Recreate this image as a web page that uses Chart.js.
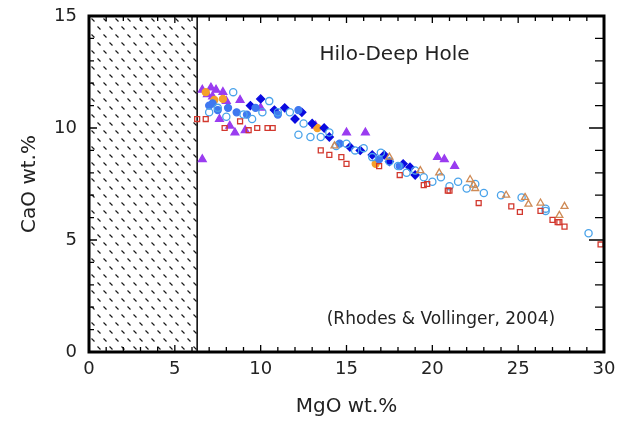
<!DOCTYPE html>
<html>
<head>
<meta charset="utf-8">
<script src="https://cdn.jsdelivr.net/npm/chart.js@4"></script>
<style>
  html, body { margin: 0; padding: 0; background: #fff; }
  #wrap { width: 635px; height: 423px; }
</style>
</head>
<body>
<div id="wrap"><canvas id="grafica" width="635" height="423"></canvas></div>
<script>
// ticks
const xTicks = [0, 5, 10, 15, 20, 25, 30];
const yTicks = [0, 5, 10, 15];
const hatchLimit = 6.3;

// series (MgO, CaO)
const purpleTri = [
    [6.6, 11.7], [6.9, 11.5], [7.1, 11.8], [7.4, 11.7], [7.8, 11.6], [7.2, 11.4], [8.0, 11.2],
    [7.6, 10.4], [8.2, 10.1], [8.5, 9.8], [9.1, 9.9], [8.8, 11.25], [10.0, 10.9], [6.6, 8.6],
    [13.2, 10.1], [15.0, 9.8], [16.1, 9.8], [20.3, 8.7], [20.7, 8.6], [21.3, 8.3]
];
const darkBlue = [
    [9.4, 11.0], [10.0, 11.3], [10.8, 10.8], [11.4, 10.9], [12.4, 10.7], [12.0, 10.4],
    [13.0, 10.2], [13.7, 10.0], [14.0, 9.6], [15.2, 9.15], [15.8, 9.0], [16.5, 8.8],
    [17.2, 8.8], [17.5, 8.5], [18.3, 8.4], [18.7, 8.25], [19.0, 7.9]
];
const medBlue = [
    [7.0, 11.0], [7.2, 11.1], [7.5, 10.8], [8.1, 10.9], [8.6, 10.7], [9.2, 10.6],
    [9.7, 10.9], [11.0, 10.6], [12.2, 10.8], [14.6, 9.3], [16.9, 8.6], [18.1, 8.3]
];
const lightBlueOpen = [
    [7.0, 10.7], [7.5, 10.9], [8.0, 10.5], [8.4, 11.6], [9.0, 10.6], [9.5, 10.4], [10.1, 10.7],
    [10.5, 11.2], [11.0, 10.7], [11.7, 10.7], [12.2, 9.7], [12.5, 10.2], [12.9, 9.6],
    [13.5, 9.6], [14.0, 9.8], [14.4, 9.2], [15.0, 9.3], [15.5, 9.0], [16.0, 9.1],
    [16.5, 8.7], [17.0, 8.9], [17.5, 8.5], [18.0, 8.3], [18.5, 8.0], [19.0, 8.1],
    [19.5, 7.8], [20.0, 7.6], [20.5, 7.8], [21.0, 7.4], [21.5, 7.6], [22.0, 7.3],
    [22.5, 7.5], [23.0, 7.1], [24.0, 7.0], [25.2, 6.9], [26.6, 6.3], [26.6, 6.4], [29.1, 5.3]
];
const redSquare = [
    [6.3, 10.4], [6.8, 10.4], [7.9, 10.0], [8.8, 10.3], [9.3, 9.9], [9.8, 10.0], [10.4, 10.0],
    [10.7, 10.0], [13.5, 9.0], [14.0, 8.8], [14.7, 8.7], [15.0, 8.4], [16.9, 8.3], [18.1, 7.9],
    [19.5, 7.45], [19.7, 7.5], [20.9, 7.2], [21.0, 7.2], [22.7, 6.65], [24.6, 6.5], [25.1, 6.25],
    [26.3, 6.3], [27.3, 5.8], [27.4, 5.8], [27.7, 5.6], [27.0, 5.9], [29.8, 4.8]
];
const tanTri = [
    [14.3, 9.2], [17.5, 8.7], [19.3, 8.1], [20.4, 8.0], [22.2, 7.7], [22.4, 7.45],
    [22.5, 7.3], [24.3, 7.0], [25.4, 6.9], [25.6, 6.6], [26.3, 6.65], [27.7, 6.5], [27.4, 6.1]
];
const orangeFill = [
    [6.8, 11.6], [7.3, 11.25], [7.8, 11.3], [13.3, 10.0], [16.7, 8.4]
];

const aPuntos = arr => arr.map(p => ({ x: p[0], y: p[1] }));

// hatch tile: short "\" dashes, staggered
const hatchCanvas = document.createElement("canvas");
hatchCanvas.width = 12;
hatchCanvas.height = 16;
const hctx = hatchCanvas.getContext("2d");
hctx.strokeStyle = "#1a1a1a";
hctx.lineWidth = 1.2;
hctx.beginPath();
hctx.moveTo(1.5, 10.5); hctx.lineTo(4.5, 13.5);
hctx.moveTo(7.5, 2.5); hctx.lineTo(10.5, 5.5);
hctx.stroke();

const marcoPlugin = {
    id: "marco",
    beforeDatasetsDraw(chart) {
        const { ctx, chartArea: a, scales: { x, y } } = chart;
        const xl = x.getPixelForValue(hatchLimit);
        ctx.save();
        ctx.fillStyle = ctx.createPattern(hatchCanvas, "repeat");
        ctx.fillRect(a.left, a.top, xl - a.left, a.bottom - a.top);
        ctx.strokeStyle = "#000";
        ctx.lineWidth = 1.5;
        ctx.beginPath();
        ctx.moveTo(xl, a.top);
        ctx.lineTo(xl, a.bottom);
        ctx.stroke();

        ctx.fillStyle = "#222";
        ctx.textAlign = "center";
        ctx.textBaseline = "middle";
        ctx.font = "20px 'DejaVu Sans'";
        ctx.fillText("Hilo-Deep Hole", x.getPixelForValue(17.8), y.getPixelForValue(13.25));
        ctx.font = "17px 'DejaVu Sans'";
        ctx.fillText("(Rhodes & Vollinger, 2004)", x.getPixelForValue(20.5), y.getPixelForValue(1.45));
        ctx.restore();
    },
    afterDraw(chart) {
        const { ctx, chartArea: a, scales: { x, y } } = chart;
        ctx.save();
        ctx.strokeStyle = "#000";
        ctx.lineWidth = 1.3;
        ctx.beginPath();
        for (let v = 0; v <= 30; v++) {
            const px = x.getPixelForValue(v);
            const len = v % 5 === 0 ? 7 : 5;
            ctx.moveTo(px, a.bottom); ctx.lineTo(px, a.bottom - len);
            ctx.moveTo(px, a.top); ctx.lineTo(px, a.top + len);
        }
        for (let v = 0; v <= 15; v++) {
            const py = y.getPixelForValue(v);
            ctx.moveTo(a.left, py); ctx.lineTo(a.left + (v % 5 === 0 ? 8 : 5), py);
            ctx.moveTo(a.right, py); ctx.lineTo(a.right - (v % 5 === 0 ? 15 : 9), py);
        }
        ctx.stroke();
        ctx.lineWidth = 3;
        ctx.strokeRect(a.left, a.top, a.right - a.left, a.bottom - a.top);
        ctx.restore();
    }
};

function serie(label, data, style, color, filled, radius) {
    return {
        label: label,
        data: aPuntos(data),
        pointStyle: style,
        pointRadius: radius,
        pointBorderWidth: 1.3,
        borderColor: color,
        backgroundColor: filled ? color : "rgba(255,255,255,0)",
        showLine: false
    };
}

const ctxG = document.getElementById("grafica").getContext("2d");
window.grafica = new Chart(ctxG, {
    type: "scatter",
    data: {
        datasets: [
            serie("Red", redSquare, "rect", "#d2382e", false, 3.5),
            serie("Tan", tanTri, "triangle", "#cf8a55", false, 4),
            serie("LightBlue", lightBlueOpen, "circle", "#4aa3ea", false, 3.6),
            serie("MedBlue", medBlue, "circle", "#3f78f0", true, 3.5),
            serie("DarkBlue", darkBlue, "rectRot", "#0a0ae0", true, 4),
            serie("Orange", orangeFill, "circle", "#f5a02a", true, 3.5),
            serie("Purple", purpleTri, "triangle", "#9a3cf0", true, 4.5)
        ]
    },
    options: {
        responsive: false,
        animation: false,
        layout: { padding: { left: 0, top: 16, right: 31, bottom: 0 } },
        plugins: { legend: { display: false }, tooltip: { enabled: false } },
        scales: {
            x: {
                type: "linear",
                min: 0,
                max: 30,
                afterBuildTicks: s => { s.ticks = xTicks.map(v => ({ value: v })); },
                afterFit: s => { s.height = 71; s.paddingLeft = 0; s.paddingRight = 0; },
                grid: { display: false, drawTicks: false },
                border: { display: false },
                ticks: { padding: 7, color: "#222", font: { family: "DejaVu Sans", size: 18 } },
                title: { display: true, text: "MgO wt.%", color: "#222",
                    font: { family: "DejaVu Sans", size: 20 }, padding: { top: 4, bottom: 4 } }
            },
            y: {
                type: "linear",
                min: 0,
                max: 15,
                afterBuildTicks: s => { s.ticks = yTicks.map(v => ({ value: v })); },
                afterFit: s => { s.width = 89; s.paddingTop = 0; s.paddingBottom = 0; },
                grid: { display: false, drawTicks: false },
                border: { display: false },
                ticks: { padding: 12, color: "#222", font: { family: "DejaVu Sans", size: 18 } },
                title: { display: true, text: "CaO wt.%", color: "#222",
                    font: { family: "DejaVu Sans", size: 20 }, padding: { top: 18, bottom: 0 } }
            }
        }
    },
    plugins: [marcoPlugin]
});
</script>
</body>
</html>
